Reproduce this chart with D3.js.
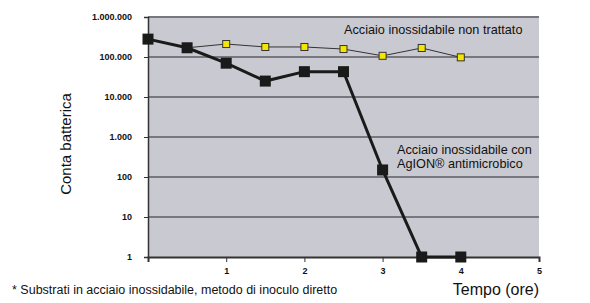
<!DOCTYPE html>
<html>
<head>
<meta charset="utf-8">
<script src="https://cdn.jsdelivr.net/npm/d3@7"></script>
<style>
  body { margin: 0; background: #fff; font-family: Arial, "Liberation Sans", sans-serif; }
</style>
</head>
<body>
<script>
// data
var hours = [0, 0.5, 1, 1.5, 2, 2.5, 3, 3.5, 4];
var untreated = [280000, 170000, 211000, 178000, 178000, 158000, 107000, 168000, 98000];
var agion = [280000, 170000, 70000, 25000, 43000, 43000, 150, 1, 1];
var yTicks = [1, 10, 100, 1000, 10000, 100000, 1000000];
var xTicks = [1, 2, 3, 4, 5];

var W = 590, H = 303;
var plotL = 148, plotR = 539, plotT = 17, plotB = 257;

var svg = d3.select('body').append('svg')
  .attr('width', W)
  .attr('height', H);

var x = d3.scaleLinear().domain([0, 5]).range([plotL, plotR]);
var y = d3.scaleLog().domain([1, 1000000]).range([plotB, plotT]);

var fmt = d3.format(',');
var itFmt = function (d) { return fmt(d).replace(/,/g, '.'); };

// plot background
svg.append('rect')
  .attr('x', plotL).attr('y', plotT)
  .attr('width', plotR - plotL).attr('height', plotB - plotT)
  .attr('fill', '#c9c9d1');

// gridlines
svg.append('g')
  .selectAll('line')
  .data(yTicks.slice(1))
  .enter()
  .append('line')
  .attr('x1', plotL).attr('x2', plotR)
  .attr('y1', d => y(d)).attr('y2', d => y(d))
  .attr('stroke', '#77777d')
  .attr('stroke-width', 2);

// y axis
var yAxis = svg.append('g')
  .attr('transform', 'translate(' + plotL + ',0)')
  .call(d3.axisLeft(y).tickValues(yTicks).tickFormat(itFmt).tickSize(4).tickPadding(12));
yAxis.select('.domain').attr('stroke', '#333').attr('stroke-width', 1.5);
yAxis.selectAll('.tick line').attr('stroke', '#333');
yAxis.selectAll('text')
  .style('font-family', 'Arial, "Liberation Sans", sans-serif')
  .style('font-size', '9px')
  .style('font-weight', 'bold')
  .attr('fill', '#111');

// x axis
var xAxis = svg.append('g')
  .attr('transform', 'translate(0,' + plotB + ')')
  .call(d3.axisBottom(x).tickValues(xTicks).tickFormat(d3.format('d')).tickSize(5).tickPadding(6));
xAxis.select('.domain').attr('stroke', '#333').attr('stroke-width', 2);
xAxis.selectAll('.tick line').attr('stroke', '#333');
xAxis.selectAll('text')
  .style('font-family', 'Arial, "Liberation Sans", sans-serif')
  .style('font-size', '9px')
  .style('font-weight', 'bold')
  .attr('fill', '#111');

var line = d3.line()
  .x((d, i) => x(hours[i]))
  .y(d => y(d));

// untreated steel
svg.append('path')
  .datum(untreated)
  .attr('d', line)
  .attr('fill', 'none')
  .attr('stroke', '#333')
  .attr('stroke-width', 1);

svg.append('g')
  .selectAll('rect')
  .data(untreated)
  .enter()
  .append('rect')
  .attr('x', (d, i) => x(hours[i]) - 3.5)
  .attr('y', d => y(d) - 3.5)
  .attr('width', 7).attr('height', 7)
  .attr('fill', '#f5e600')
  .attr('stroke', '#333')
  .attr('stroke-width', 1);

// AgION steel
svg.append('path')
  .datum(agion)
  .attr('d', line)
  .attr('fill', 'none')
  .attr('stroke', '#1a1a1a')
  .attr('stroke-width', 3);

svg.append('g')
  .selectAll('rect')
  .data(agion)
  .enter()
  .append('rect')
  .attr('x', (d, i) => x(hours[i]) - 5.5)
  .attr('y', d => y(d) - 5.5)
  .attr('width', 11).attr('height', 11)
  .attr('fill', '#1a1a1a');

// labels
var txt = function (t, xx, yy, size, anchor) {
  return svg.append('text')
    .attr('x', xx).attr('y', yy)
    .attr('text-anchor', anchor || 'start')
    .style('font-family', 'Arial, "Liberation Sans", sans-serif')
    .style('font-size', size + 'px')
    .attr('fill', '#111')
    .text(t);
};

txt('Acciaio inossidabile non trattato', 344, 34, 12.7);
txt('Acciaio inossidabile con', 397, 154, 12.7);
txt('AgION® antimicrobico', 397, 168, 12.7);
txt('Tempo (ore)', 539, 295, 16, 'end');
txt('* Substrati in acciaio inossidabile, metodo di inoculo diretto', 12, 294, 12.5);

svg.append('text')
  .attr('transform', 'translate(71,144) rotate(-90)')
  .attr('text-anchor', 'middle')
  .style('font-family', 'Arial, "Liberation Sans", sans-serif')
  .style('font-size', '15px')
  .attr('fill', '#111')
  .text('Conta batterica');
</script>
</body>
</html>
